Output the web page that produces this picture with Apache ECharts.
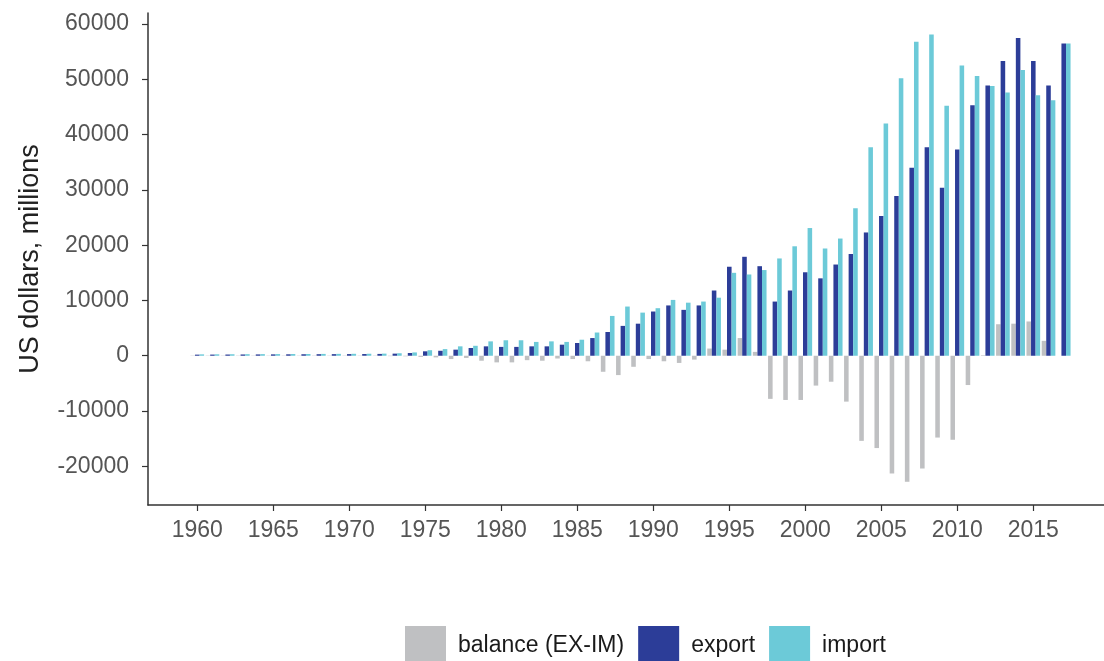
<!DOCTYPE html>
<html>
<head>
<meta charset="utf-8">
<script src="https://cdn.jsdelivr.net/npm/echarts@6/dist/echarts.min.js"></script>
<style>
  html, body { margin: 0; padding: 0; background: #fff; }
  #chart { width: 1104px; height: 661px; }
</style>
</head>
<body>
<div id="chart"></div>
<script>
// years on the x axis
const years = [];
for (let y = 1960; y <= 2017; y++) years.push(y);

// values, US dollars, millions
const exportVals = [
  200, 210, 220, 230, 240, 250, 260, 270, 280, 290,
  300, 310, 330, 380, 500, 800, 900, 1100, 1400, 1700,
  1600, 1600, 1700, 1700, 2000, 2300, 3200, 4300, 5400, 5800,
  8000, 9100, 8300, 9100, 11800, 16100, 17900, 16200, 9800, 11800,
  15100, 14000, 16500, 18400, 22300, 25300, 28900, 34000, 37700, 30400,
  37300, 45300, 48900, 53300, 57500, 53300, 48900, 56500
];
const importVals = [
  250, 260, 270, 280, 290, 300, 310, 320, 330, 340,
  350, 360, 380, 450, 600, 1000, 1200, 1700, 1800, 2600,
  2800, 2800, 2500, 2600, 2500, 2900, 4200, 7200, 8900, 7800,
  8600, 10100, 9600, 9800, 10500, 15000, 14700, 15500, 17600, 19800,
  23100, 19400, 21200, 26700, 37700, 42000, 50200, 56800, 58100, 45200,
  52500, 50600, 48800, 47600, 51700, 47100, 46200, 56500
];
const balanceVals = [
  -50, -50, -50, -50, -50, -50, -50, -50, -50, -50,
  -50, -50, -50, -70, -100, -200, -300, -600, -400, -900,
  -1200, -1200, -800, -900, -500, -600, -1000, -2900, -3500, -2000,
  -600, -1000, -1300, -700, 1300, 1100, 3200, 700, -7800, -8000,
  -8000, -5400, -4700, -8300, -15400, -16700, -21300, -22800, -20400, -14800,
  -15200, -5300, 100, 5700, 5800, 6200, 2700, 0
];

const xTicks = [1960, 1965, 1970, 1975, 1980, 1985, 1990, 1995, 2000, 2005, 2010, 2015];
const yTicks = [-20000, -10000, 0, 10000, 20000, 30000, 40000, 50000, 60000];

const colors = {
  balance: '#bfc0c2',
  export: '#2c3d98',
  import: '#6ccad8'
};

const pairs = (vals) => years.map((y, i) => [y, vals[i]]);

const chart = echarts.init(document.getElementById('chart'));

const labelFont = { fontFamily: 'Liberation Sans, Arial, sans-serif', fontSize: 23, color: '#555555' };

const option = {
  backgroundColor: '#ffffff',
  animation: false,
  grid: { left: 148, top: 13, right: 0, bottom: 156, containLabel: false },
  legend: {
    left: 400,
    top: 621,
    icon: 'rect',
    itemWidth: 41,
    itemHeight: 40,
    itemGap: 14,
    textStyle: { fontFamily: 'Liberation Sans, Arial, sans-serif', fontSize: 23, color: '#1a1a1a', padding: [0, 0, 0, 7] },
    data: ['balance (EX-IM)', 'export', 'import']
  },
  xAxis: {
    type: 'value',
    min: 1956.76,
    max: 2019.65,
    splitLine: { show: false },
    axisLine: { onZero: false, lineStyle: { color: '#333', width: 1.5 } },
    axisTick: { length: 6, lineStyle: { color: '#333', width: 1.2 }, customValues: xTicks },
    axisLabel: Object.assign({ margin: 14, customValues: xTicks, formatter: (v) => String(v) }, labelFont)
  },
  yAxis: {
    type: 'value',
    min: -27000,
    max: 62000,
    name: 'US dollars, millions',
    nameLocation: 'middle',
    nameGap: 104,
    nameTextStyle: { fontFamily: 'Liberation Sans, Arial, sans-serif', fontSize: 27, color: '#222' },
    splitLine: { show: false },
    axisLine: { show: true, lineStyle: { color: '#333', width: 1.5 } },
    axisTick: { show: true, length: 6, lineStyle: { color: '#333', width: 1.2 }, customValues: yTicks },
    axisLabel: Object.assign({ margin: 19, customValues: yTicks, formatter: (v) => String(v) }, labelFont)
  },
  series: [
    {
      name: 'balance (EX-IM)',
      type: 'bar',
      barWidth: 4.56,
      barGap: '0%',
      itemStyle: { color: colors.balance },
      data: pairs(balanceVals)
    },
    {
      name: 'export',
      type: 'bar',
      barWidth: 4.56,
      barGap: '0%',
      itemStyle: { color: colors.export },
      data: pairs(exportVals)
    },
    {
      name: 'import',
      type: 'bar',
      barWidth: 4.56,
      barGap: '0%',
      itemStyle: { color: colors.import },
      data: pairs(importVals)
    }
  ]
};

chart.setOption(option);
</script>
</body>
</html>
